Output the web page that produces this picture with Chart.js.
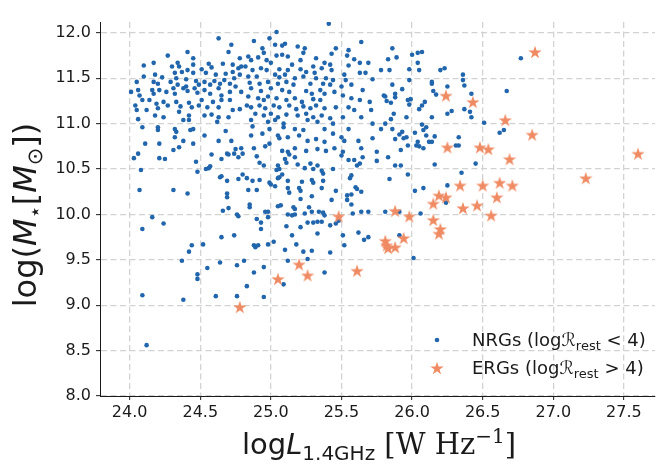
<!DOCTYPE html>
<html>
<head>
<meta charset="utf-8">
<script src="https://cdn.jsdelivr.net/npm/chart.js@4.4.0/dist/chart.umd.min.js"></script>
<style>
  html, body { margin: 0; padding: 0; background: #fff; }
  #wrap { width: 660px; height: 467px; }
</style>
</head>
<body>
<div id="wrap"><canvas id="myChart" width="660" height="467"></canvas></div>
<script>
// [log L_1.4GHz, log M*]
const nrgPoints = [
  [24.63,11.94],[24.72,11.87],[24.27,11.75],[24.41,11.79],[24.70,11.79],[24.78,11.72],[24.10,11.64],[24.17,11.67],[24.34,11.67],[24.35,11.63],
  [24.45,11.72],[24.45,11.65],[24.56,11.66],[24.58,11.62],[24.66,11.66],[24.73,11.65],[24.79,11.63],[24.30,11.63],[24.41,11.59],[24.51,11.60],
  [24.37,11.57],[24.45,11.56],[24.32,11.56],[24.18,11.54],[24.10,11.52],[24.23,11.51],[24.33,11.50],[24.54,11.56],[24.61,11.54],[24.68,11.55],
  [24.73,11.57],[24.77,11.61],[24.05,11.46],[24.17,11.46],[24.20,11.44],[24.29,11.46],[24.34,11.43],[24.40,11.49],[24.40,11.41],[24.47,11.47],
  [24.49,11.43],[24.53,11.46],[24.57,11.43],[24.60,11.47],[24.64,11.44],[24.67,11.48],[24.71,11.44],[24.74,11.50],[24.78,11.54],[24.01,11.35],
  [24.06,11.37],[24.07,11.31],[24.16,11.37],[24.17,11.33],[24.21,11.37],[24.26,11.35],[24.31,11.39],[24.32,11.33],[24.38,11.39],[24.41,11.36],
  [24.46,11.39],[24.48,11.34],[24.53,11.37],[24.57,11.33],[24.63,11.39],[24.65,11.31],[24.71,11.35],[24.75,11.41],[24.79,11.35],[24.04,11.20],
  [24.05,11.15],[24.09,11.26],[24.14,11.26],[24.19,11.22],[24.20,11.17],[24.24,11.24],[24.27,11.20],[24.33,11.24],[24.36,11.19],[24.42,11.23],
  [24.44,11.18],[24.49,11.20],[24.51,11.26],[24.55,11.18],[24.59,11.24],[24.63,11.18],[24.65,11.26],[24.71,11.26],[24.73,11.15],[24.78,11.16],
  [24.06,11.05],[24.12,11.15],[24.18,11.09],[24.24,11.07],[24.35,11.13],[24.42,11.09],[24.53,11.09],[24.58,11.10],[24.63,11.07],[24.70,11.07],
  [24.38,11.04],[24.42,11.04],[24.62,11.02],[24.09,10.96],[24.20,10.96],[24.20,10.93],[24.32,10.94],[24.33,10.91],[24.43,10.93],[24.45,10.94],
  [24.53,10.87],[24.68,10.92],[24.32,10.85],[24.38,10.81],[24.63,10.81],[24.72,10.81],[24.11,10.78],[24.21,10.78],[24.45,10.78],
  [25.41,12.10],[25.04,12.01],[24.99,11.94],[24.88,11.91],[25.10,11.88],[25.03,11.87],[25.08,11.86],[25.19,11.85],[25.64,11.90],[24.94,11.83],
  [25.24,11.83],[25.46,11.83],[25.55,11.81],[25.23,11.78],[25.08,11.76],[25.04,11.75],[24.95,11.78],[25.43,11.77],[25.54,11.75],[25.59,11.71],
  [24.84,11.74],[24.86,11.70],[24.91,11.73],[24.97,11.70],[25.00,11.67],[25.12,11.74],[25.15,11.65],[25.21,11.70],[25.32,11.72],[25.38,11.67],
  [25.42,11.65],[25.63,11.67],[25.69,11.67],[25.30,11.63],[25.36,11.61],[25.55,11.64],[24.82,11.63],[24.87,11.59],[24.93,11.61],[24.97,11.59],
  [25.06,11.60],[25.12,11.59],[25.21,11.60],[25.25,11.57],[25.43,11.59],[25.63,11.56],[25.67,11.56],[25.78,11.59],[24.84,11.52],[24.90,11.52],
  [25.03,11.54],[25.06,11.51],[25.10,11.54],[25.17,11.50],[25.23,11.52],[25.31,11.56],[25.32,11.50],[25.39,11.50],[25.44,11.48],[25.52,11.54],
  [25.53,11.48],[25.72,11.49],[24.85,11.45],[24.92,11.44],[24.98,11.46],[25.05,11.44],[25.11,11.46],[25.16,11.43],[25.28,11.44],[25.37,11.44],
  [25.42,11.43],[25.50,11.41],[25.57,11.43],[25.65,11.37],[24.86,11.39],[24.93,11.36],[25.00,11.39],[25.08,11.37],[25.13,11.35],[25.25,11.36],
  [25.29,11.33],[25.35,11.37],[25.38,11.33],[25.45,11.35],[25.51,11.31],[25.80,11.31],[24.84,11.30],[24.91,11.28],[24.95,11.26],[24.98,11.30],
  [25.04,11.28],[25.11,11.26],[25.17,11.28],[25.22,11.24],[25.30,11.27],[25.35,11.26],[25.57,11.28],[25.63,11.26],[25.70,11.24],[24.83,11.20],
  [24.86,11.18],[24.92,11.20],[24.96,11.17],[25.02,11.20],[25.06,11.18],[25.13,11.20],[25.18,11.16],[25.23,11.19],[25.28,11.17],[25.32,11.20],
  [25.38,11.17],[25.46,11.18],[25.55,11.18],[25.59,11.15],[25.71,11.15],[24.89,11.11],[24.95,11.09],[25.00,11.11],[25.05,11.07],[25.11,11.10],
  [25.19,11.09],[25.25,11.11],[25.30,11.07],[25.36,11.09],[25.42,11.06],[25.51,11.07],[25.64,11.07],[24.86,11.04],[24.98,11.02],[25.03,11.04],
  [25.09,11.00],[25.26,11.04],[25.33,11.02],[25.44,11.00],[25.78,10.94],[25.72,11.00],[24.87,10.97],[24.99,10.94],[25.09,10.96],[25.17,10.94],
  [25.23,10.93],[25.38,10.94],[25.55,10.94],[24.86,10.87],[24.94,10.89],[25.05,10.87],[25.12,10.85],[25.20,10.87],[25.32,10.83],[25.44,10.89],
  [25.50,10.85],[25.62,10.81],[25.72,10.84],[24.99,10.78],[25.06,10.84],[25.26,10.81],[25.38,10.80],[25.52,10.81],
  [25.86,11.83],[25.83,11.71],[25.89,11.73],[26.00,11.76],[26.04,11.78],[26.07,11.79],[26.04,11.67],[25.84,11.59],[25.98,11.60],[26.05,11.59],
  [26.20,11.59],[26.23,11.61],[26.77,11.72],[26.36,11.54],[26.36,11.48],[26.37,11.42],[25.86,11.43],[25.98,11.48],[26.14,11.46],[26.14,11.44],
  [26.25,11.41],[25.93,11.38],[26.15,11.36],[26.17,11.32],[25.88,11.33],[25.88,11.29],[25.81,11.30],[26.42,11.33],[26.67,11.36],[25.82,11.25],
  [25.85,11.23],[25.97,11.26],[25.99,11.27],[25.98,11.21],[26.09,11.24],[26.07,11.20],[26.05,11.16],[25.87,11.11],[25.85,11.05],[25.96,11.07],
  [26.14,11.07],[26.25,11.11],[26.28,11.14],[26.37,11.16],[26.42,11.07],[26.41,11.13],[26.51,11.01],[25.81,11.00],[25.86,10.94],[26.07,10.99],
  [26.10,10.96],[26.08,10.93],[25.93,10.91],[25.91,10.88],[25.94,10.84],[25.96,10.85],[25.88,10.83],[26.02,10.90],[26.10,10.87],[26.16,10.86],
  [26.04,10.80],[26.12,10.80],[26.14,10.80],[26.33,10.85],[26.65,10.93],[26.62,10.90],
  [24.31,10.71],[24.35,10.74],[24.06,10.67],[24.03,10.62],[24.21,10.62],[24.25,10.61],[24.58,10.66],[24.65,10.61],[24.69,10.67],[24.70,10.66],
  [24.74,10.67],[24.75,10.72],[24.77,10.63],[24.79,10.73],[24.80,10.67],[24.47,10.58],[24.08,10.49],[24.54,10.50],[24.56,10.51],[24.57,10.53],
  [24.48,10.47],[24.64,10.41],[24.65,10.42],[24.69,10.37],[24.77,10.39],[24.80,10.44],[24.07,10.27],[24.31,10.27],[24.41,10.23],[24.69,10.23],
  [24.69,10.19],[24.70,10.07],[24.66,10.04],[24.76,10.00],[24.77,9.98],[24.16,9.97],[24.24,9.90],[24.09,9.84],[24.65,9.75],[24.74,9.77],
  [24.44,9.66],[24.52,9.67],[24.42,9.59],[24.37,9.49],[24.55,9.41],[24.64,9.47],[24.76,9.44],[24.81,9.49],
  [24.09,9.11],[24.38,9.06],[24.48,9.34],[24.48,9.29],[24.61,9.10],[24.76,9.10],[24.12,8.56],
  [24.88,10.73],[24.96,10.75],[25.08,10.70],[25.12,10.69],[25.13,10.66],[25.17,10.73],[25.25,10.70],[25.33,10.72],[25.39,10.70],[25.45,10.73],
  [25.51,10.69],[25.64,10.73],[25.75,10.69],[24.90,10.64],[25.10,10.61],[25.17,10.63],[25.50,10.65],[25.55,10.60],[25.59,10.60],[25.65,10.63],
  [25.75,10.59],[24.92,10.57],[24.95,10.54],[25.05,10.54],[25.11,10.57],[25.19,10.55],[25.28,10.56],[25.33,10.54],[25.61,10.54],[25.63,10.56],
  [25.04,10.49],[25.06,10.50],[25.24,10.51],[25.30,10.50],[25.36,10.48],[25.44,10.50],[25.37,10.45],[24.83,10.40],[24.87,10.37],[24.92,10.38],
  [24.99,10.35],[25.00,10.33],[25.03,10.31],[25.05,10.40],[25.06,10.41],[25.08,10.44],[25.12,10.37],[25.22,10.36],[25.29,10.38],[25.30,10.35],
  [25.37,10.37],[25.57,10.43],[25.56,10.40],[24.84,10.27],[24.90,10.27],[25.12,10.29],[25.13,10.24],[25.20,10.29],[25.21,10.26],[25.36,10.29],
  [25.46,10.26],[25.60,10.30],[25.61,10.28],[25.64,10.25],[25.54,10.21],[25.57,10.22],[25.29,10.20],[25.21,10.17],[25.43,10.16],[25.54,10.16],
  [25.57,10.11],[24.85,10.11],[24.85,10.08],[25.05,10.09],[25.07,10.10],[25.16,10.08],[25.17,10.06],[25.27,10.08],[25.29,10.03],[25.34,10.03],
  [25.37,10.02],[25.38,9.99],[24.96,10.03],[24.98,10.03],[24.98,9.97],[25.12,10.00],[25.15,9.99],[25.17,10.00],[25.24,10.01],[25.58,10.01],
  [25.69,10.03],[25.64,10.03],[24.90,9.95],[24.93,9.91],[25.26,9.91],[25.30,9.91],[25.33,9.92],[25.36,9.92],[25.42,9.88],[25.46,9.90],
  [25.48,9.93],[24.93,9.84],[25.11,9.87],[25.21,9.86],[25.33,9.79],[25.15,9.77],[25.62,9.80],[25.66,9.72],[25.69,9.75],[25.51,9.77],
  [24.88,9.66],[24.89,9.64],[24.91,9.66],[24.98,9.67],[25.02,9.70],[25.18,9.67],[25.52,9.66],[25.10,9.61],[25.23,9.59],[25.29,9.60],
  [25.42,9.58],[25.12,9.49],[24.95,9.42],[25.26,9.51],
  [24.88,9.36],[24.83,9.21],[24.95,9.09],[25.09,9.23],[25.38,9.36],
  [25.97,10.76],[26.03,10.76],[26.05,10.75],[26.08,10.73],[25.92,10.71],[25.83,10.63],[25.88,10.54],[25.92,10.54],[26.16,10.55],[26.45,10.56],
  [26.35,10.46],[26.31,10.76],[26.33,10.76],[25.97,10.44],[25.84,10.39],[26.25,10.32],[26.08,10.29],[26.02,10.26],[26.24,10.13],[26.06,10.01],
  [25.91,10.03],[25.81,10.03],[25.91,9.77],[26.01,9.52]
];
const ergPoints = [
  [26.24,11.31],[26.43,11.24],[26.66,11.04],[26.87,11.79],[26.85,10.88],[27.60,10.67],[27.23,10.40],
  [26.25,10.74],[26.48,10.74],[26.54,10.72],[26.69,10.61],[26.34,10.32],[26.50,10.32],[26.62,10.35],[26.71,10.32],
  [26.60,10.19],[26.19,10.21],[26.24,10.19],[26.15,10.12],[26.36,10.07],[26.46,10.10],[26.56,9.99],[25.88,10.04],
  [25.98,9.98],[26.15,9.94],[26.20,9.84],[26.19,9.79],[25.94,9.74],[25.81,9.71],[25.82,9.66],[25.88,9.64],[25.83,9.63],
  [25.48,9.98],[25.20,9.45],[25.05,9.29],[25.26,9.33],[25.61,9.38],[24.78,8.98]
];
const xTicks = [24.0, 24.5, 25.0, 25.5, 26.0, 26.5, 27.0, 27.5];
const yTicks = [8.0, 8.5, 9.0, 9.5, 10.0, 10.5, 11.0, 11.5, 12.0];

const nrgColor = '#2166ac';
const ergColor = '#ef8a62';
const inkColor = '#1a1a1a';

// filled five-point star, Chart.js' own 'star' is only an outline
function makeStar(size, outer, color) {
  const c = document.createElement('canvas');
  c.width = size; c.height = size;
  const g = c.getContext('2d');
  g.fillStyle = color;
  g.beginPath();
  for (let i = 0; i < 10; i++) {
    const r = i % 2 === 0 ? outer : outer * 0.382;
    const a = -Math.PI / 2 + i * Math.PI / 5;
    const px = size / 2 + r * Math.cos(a);
    const py = size / 2 + r * Math.sin(a) + outer * 0.1;
    if (i === 0) g.moveTo(px, py); else g.lineTo(px, py);
  }
  g.closePath();
  g.fill();
  return c;
}
const starImg = makeStar(16, 7, ergColor);

// text with sub/superscripts, parts drawn one after another
function drawRich(ctx, parts, x, y, align) {
  let w = 0;
  parts.forEach(p => { ctx.font = p.font; w += ctx.measureText(p.t).width; });
  let cx = align === 'center' ? x - w / 2 : x;
  parts.forEach(p => {
    ctx.font = p.font;
    ctx.fillText(p.t, cx, y + (p.dy || 0));
    cx += ctx.measureText(p.t).width;
  });
}

const labelsPlugin = {
  id: 'labels',
  afterDraw(chart) {
    const ctx = chart.ctx;
    ctx.save();
    ctx.fillStyle = inkColor;
    ctx.textBaseline = 'alphabetic';
    const sans = 'DejaVu Sans';
    const serif = 'DejaVu Serif';

    // x title
    drawRich(ctx, [
      { t: 'log', font: `29px ${sans}` },
      { t: 'L', font: `italic 29px ${sans}` },
      { t: '1.4GHz', font: `20px ${sans}`, dy: 6 },
      { t: ' [W Hz', font: `29px ${serif}` },
      { t: '\u22121', font: `20px ${serif}`, dy: -11 },
      { t: ']', font: `29px ${serif}` }
    ], 379, 454, 'center');

    // y title
    ctx.save();
    ctx.translate(36, 215);
    ctx.rotate(-Math.PI / 2);
    drawRich(ctx, [
      { t: 'log(', font: `32px ${sans}` },
      { t: 'M', font: `italic 32px ${sans}` },
      { t: '\u22c6', font: `21px ${sans}`, dy: 6 },
      { t: '[', font: `32px ${sans}` },
      { t: 'M', font: `italic 32px ${sans}` },
      { t: '\u2299', font: `21px ${sans}`, dy: 6 },
      { t: '])', font: `32px ${sans}` }
    ], 0, 0, 'center');
    ctx.restore();

    // legend (no frame)
    ctx.fillStyle = nrgColor;
    ctx.beginPath();
    ctx.arc(437, 340, 2.3, 0, Math.PI * 2);
    ctx.fill();
    ctx.drawImage(starImg, 437 - 8, 368 - 8);
    ctx.fillStyle = inkColor;
    const rows = [['NRGs', ' < 4)', 346], ['ERGs', ' > 4)', 374]];
    rows.forEach(r => {
      drawRich(ctx, [
        { t: r[0] + ' (log', font: `18px ${sans}` },
        { t: '\u211b', font: `18px ${sans}` },
        { t: 'rest', font: `13px ${sans}`, dy: 4 },
        { t: r[1], font: `18px ${sans}` }
      ], 472, r[2], 'left');
    });
    ctx.restore();
  }
};

const tickFont = { family: 'DejaVu Sans', size: 16 };

new Chart(document.getElementById('myChart').getContext('2d'), {
  type: 'scatter',
  data: {
    datasets: [
      {
        label: 'ERGs',
        data: ergPoints.map(p => ({ x: p[0], y: p[1] })),
        pointStyle: starImg,
        order: 0
      },
      {
        label: 'NRGs',
        data: nrgPoints.map(p => ({ x: p[0], y: p[1] })),
        pointStyle: 'circle',
        pointRadius: 2.3,
        pointBackgroundColor: nrgColor,
        pointBorderWidth: 0,
        order: 1
      }
    ]
  },
  options: {
    responsive: false,
    animation: false,
    events: [],
    layout: { padding: { left: 0, right: 5, top: 22, bottom: 0 } },
    plugins: { legend: { display: false }, tooltip: { enabled: false } },
    scales: {
      x: {
        type: 'linear',
        min: 23.79,
        max: 27.72,
        afterBuildTicks: s => { s.ticks = xTicks.map(v => ({ value: v })); },
        afterFit: s => { s.height = 71; },
        ticks: { callback: v => v.toFixed(1), font: tickFont, color: inkColor, padding: 3, maxRotation: 0, autoSkip: false },
        grid: { color: '#d2d2d2', lineWidth: 1.3, tickColor: inkColor, tickLength: 4, tickWidth: 1 },
        border: { color: inkColor, width: 1, dash: [6, 3.5] }
      },
      y: {
        type: 'linear',
        min: 8.0,
        max: 12.12,
        afterBuildTicks: s => { s.ticks = yTicks.map(v => ({ value: v })); },
        afterFit: s => { s.width = 100; },
        ticks: { callback: v => v.toFixed(1), font: tickFont, color: inkColor, padding: 5, autoSkip: false },
        grid: { color: '#d2d2d2', lineWidth: 1.3, tickColor: inkColor, tickLength: 4, tickWidth: 1 },
        border: { color: inkColor, width: 1, dash: [6, 3.5] }
      }
    }
  },
  plugins: [labelsPlugin]
});
</script>
</body>
</html>
